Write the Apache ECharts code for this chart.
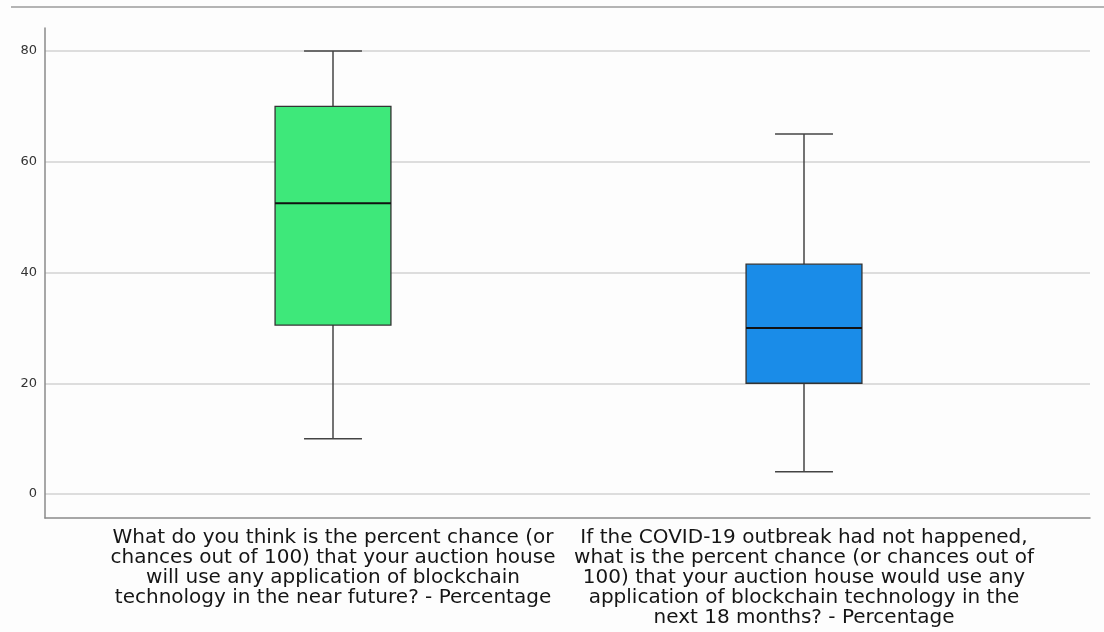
<!DOCTYPE html>
<html>
<head>
<meta charset="utf-8">
<script src="https://cdn.jsdelivr.net/npm/echarts@6/dist/echarts.min.js"></script>
<style>
  html, body { margin: 0; padding: 0; background: #fdfdfd; }
  #chart { width: 1104px; height: 632px; }
</style>
</head>
<body>
<div id="chart"></div>
<script>
// question labels (line breaks as in the source figure)
const questions = [
  'What do you think is the percent chance (or\nchances out of 100) that your auction house\nwill use any application of blockchain\ntechnology in the near future? - Percentage',
  'If the COVID-19 outbreak had not happened,\nwhat is the percent chance (or chances out of\n100) that your auction house would use any\napplication of blockchain technology in the\nnext 18 months? - Percentage'
]

// five-number summaries
const whiskerLow = [10, 4]
const q1 = [30.5, 20]
const median = [52.5, 30]
const q3 = [70, 41.5]
const whiskerHigh = [80, 65]

const boxColors = ['#3ee87a', '#1a8ce8']

const boxData = questions.map((q, i) => [i, whiskerLow[i], q1[i], median[i], q3[i], whiskerHigh[i]])

const yMin = -4.33
const yMax = 84.15

const chart = echarts.init(document.getElementById('chart'))

const renderBox = (params, api) => {
  const x = api.value(0)
  const lo = api.coord([x, api.value(1)])
  const b1 = api.coord([x, api.value(2)])
  const md = api.coord([x, api.value(3)])
  const b3 = api.coord([x, api.value(4)])
  const hi = api.coord([x, api.value(5)])
  const band = api.size([1, 0])[0]
  const half = band * 0.123
  const cap = half / 2
  const cx = md[0]
  const lineStyle = { stroke: '#444', lineWidth: 1.5 }
  return {
    type: 'group',
    children: [
      { type: 'line', shape: { x1: cx, y1: hi[1], x2: cx, y2: b3[1] }, style: lineStyle },
      { type: 'line', shape: { x1: cx - cap, y1: hi[1], x2: cx + cap, y2: hi[1] }, style: lineStyle },
      { type: 'line', shape: { x1: cx, y1: b1[1], x2: cx, y2: lo[1] }, style: lineStyle },
      { type: 'line', shape: { x1: cx - cap, y1: lo[1], x2: cx + cap, y2: lo[1] }, style: lineStyle },
      {
        type: 'rect',
        shape: { x: cx - half, y: b3[1], width: half * 2, height: b1[1] - b3[1] },
        style: { fill: boxColors[params.dataIndex], stroke: '#333', lineWidth: 1.3 }
      },
      { type: 'line', shape: { x1: cx - half, y1: md[1], x2: cx + half, y2: md[1] }, style: { stroke: '#111', lineWidth: 2 } }
    ]
  }
}

const option = {
  backgroundColor: '#fdfdfd',
  animation: false,
  textStyle: { fontFamily: 'DejaVu Sans' },
  graphic: [
    { type: 'rect', shape: { x: 11, y: 6, width: 1093, height: 2 }, style: { fill: '#b4b4b4' } }
  ],
  grid: [
    { left: 45, right: 14, top: 28, bottom: 114 },
    { left: 97.5, right: 64.5, top: 28, bottom: 114 }
  ],
  xAxis: [
    {
      type: 'category',
      gridIndex: 0,
      data: [''],
      axisLine: { onZero: false, lineStyle: { color: '#8a8a8a', width: 1.5 } },
      axisTick: { show: false },
      axisLabel: { show: false }
    },
    {
      type: 'category',
      gridIndex: 1,
      data: questions,
      axisLine: { show: false, onZero: false },
      axisTick: { show: false },
      axisLabel: {
        interval: 0,
        color: '#151515',
        fontSize: 20,
        lineHeight: 20,
        margin: 10
      }
    }
  ],
  yAxis: [
    {
      type: 'value',
      gridIndex: 0,
      min: yMin,
      max: yMax,
      splitNumber: 5,
      axisLine: { show: true, onZero: false, lineStyle: { color: '#8a8a8a', width: 1.5 } },
      axisTick: { show: false },
      axisLabel: {
        color: '#333',
        fontSize: 13,
        margin: 8,
        showMinLabel: false,
        showMaxLabel: false
      },
      splitLine: {
        show: true,
        showMinLine: false,
        showMaxLine: false,
        lineStyle: { color: '#d2d2d2', width: 1.5 }
      }
    },
    {
      type: 'value',
      gridIndex: 1,
      min: yMin,
      max: yMax,
      show: false,
      splitLine: { show: false }
    }
  ],
  series: [
    {
      type: 'custom',
      xAxisIndex: 1,
      yAxisIndex: 1,
      renderItem: renderBox,
      encode: { x: 0, y: [1, 2, 3, 4, 5] },
      data: boxData
    }
  ]
}

chart.setOption(option)
</script>
</body>
</html>
